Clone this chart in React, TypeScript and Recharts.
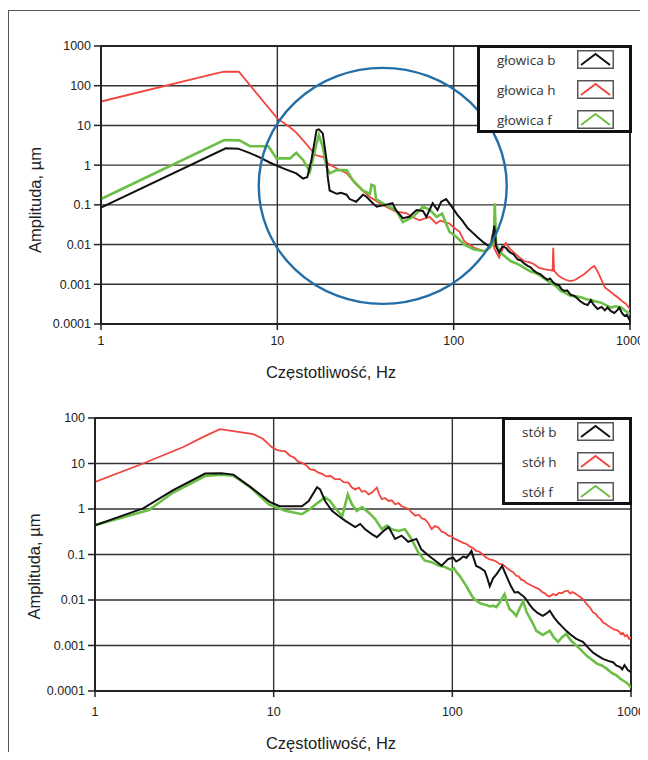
import React from "react";
import {
  CartesianGrid,
  Legend,
  Line,
  LineChart,
  ReferenceArea,
  ReferenceDot,
  XAxis,
  YAxis,
} from "recharts";

// ---- chart 1: głowica (spindle head) ----
const headBFreq = [1, 5.1, 6, 7, 8, 9.1, 10.8, 12.8, 14, 14.8, 15.6, 16.7, 17.2, 18.1, 19, 19.3, 19.8, 21.7, 23, 24.7, 25.7, 28, 30.6, 32, 34.8, 36.6, 41, 45, 47, 51.5, 56, 61.6, 67, 70, 76, 81, 85, 90.6, 96, 105, 112, 120, 128, 137, 149, 159, 165, 170, 174, 181, 189, 198, 205, 211, 218, 225, 231, 240, 252, 263, 272, 285, 299, 310, 325, 341, 352, 368, 380, 395, 410, 424, 440, 460, 483, 500, 520, 550, 575, 600, 620, 655, 690, 720, 746, 780, 814, 845, 870, 900, 930, 960, 1000];
const headBAmp = [0.085, 2.65, 2.6, 2.0, 1.55, 1.15, 0.83, 0.62, 0.46, 0.5, 1.35, 7.7, 8, 6.3, 1.35, 0.51, 0.23, 0.19, 0.2, 0.18, 0.14, 0.12, 0.18, 0.16, 0.11, 0.09, 0.1, 0.11, 0.074, 0.046, 0.05, 0.074, 0.07, 0.05, 0.11, 0.074, 0.12, 0.14, 0.1, 0.056, 0.04, 0.026, 0.02, 0.015, 0.011, 0.009, 0.012, 0.03, 0.009, 0.0062, 0.009, 0.0083, 0.0068, 0.0062, 0.0058, 0.0048, 0.0042, 0.004, 0.0033, 0.0029, 0.0027, 0.0022, 0.0019, 0.0018, 0.0015, 0.0013, 0.0014, 0.0011, 0.001, 0.00095, 0.00075, 0.00068, 0.0007, 0.00055, 0.00051, 0.00045, 0.00038, 0.00032, 0.0003, 0.0004, 0.00031, 0.00024, 0.00027, 0.00022, 0.00026, 0.00021, 0.00019, 0.00022, 0.00026, 0.00019, 0.00016, 0.00017, 0.00012];

const headHFreq = [1, 4.5, 5, 6.05, 10, 11.8, 12.9, 14.5, 16.5, 18.2, 19.4, 22, 24.7, 28.1, 33.3, 39.6, 47.3, 53.8, 58, 64, 73, 79.6, 84, 94.6, 101, 108, 115, 131, 149, 160, 166, 170, 181, 190, 198, 208, 221, 235, 252, 268, 286, 305, 326, 345, 364, 367, 371, 390, 405, 430, 461, 490, 515, 549, 580, 610, 627, 645, 670, 700, 720, 760, 800, 850, 900, 950, 1000];
const headHAmp = [40, 205, 225, 225, 15, 9, 6.4, 3.5, 1.8, 1.6, 1.1, 0.8, 0.63, 0.32, 0.16, 0.1, 0.067, 0.062, 0.05, 0.041, 0.05, 0.034, 0.04, 0.034, 0.026, 0.021, 0.012, 0.0083, 0.0068, 0.008, 0.018, 0.008, 0.0047, 0.008, 0.011, 0.0078, 0.0062, 0.0048, 0.0038, 0.0036, 0.0032, 0.0026, 0.0024, 0.0023, 0.0022, 0.0083, 0.0022, 0.0017, 0.0015, 0.0013, 0.0012, 0.0013, 0.0015, 0.0018, 0.0022, 0.0027, 0.0029, 0.0024, 0.0017, 0.0011, 0.00083, 0.0007, 0.00058, 0.00047, 0.00038, 0.00032, 0.00024];

const headFFreq = [1, 5, 6.1, 7, 8.9, 9.9, 11.8, 12.8, 14, 15.3, 16.7, 17.2, 18.1, 19, 19.8, 21.7, 24.7, 26.8, 30.5, 33.5, 34.2, 35.5, 36.3, 41, 47, 51.5, 59, 67, 73.5, 80, 86, 94.6, 103, 115, 131, 149, 163, 169, 171, 174, 185, 198, 211, 225, 241, 258, 274, 293, 313, 333, 355, 380, 405, 430, 461, 495, 528, 565, 600, 640, 680, 730, 780, 830, 890, 950, 1000];
const headFAmp = [0.14, 4.3, 4.2, 3.0, 3.0, 1.48, 1.48, 2.05, 1.35, 0.68, 3.5, 5.7, 2.9, 0.91, 0.62, 0.75, 0.75, 0.42, 0.23, 0.19, 0.32, 0.3, 0.14, 0.1, 0.074, 0.037, 0.05, 0.09, 0.074, 0.05, 0.06, 0.021, 0.016, 0.01, 0.0075, 0.0068, 0.009, 0.012, 0.11, 0.01, 0.0062, 0.0048, 0.0038, 0.0034, 0.0029, 0.0024, 0.0021, 0.0019, 0.0016, 0.0013, 0.0011, 0.0009, 0.00068, 0.0006, 0.00051, 0.0005, 0.00047, 0.00042, 0.0004, 0.00037, 0.00035, 0.0003, 0.00026, 0.00028, 0.00026, 0.00021, 0.00018];

// ---- chart 2: stół (table) ----
const tableBFreq = [1, 1.86, 2.74, 4.13, 5.1, 5.95, 7.4, 9.5, 10.8, 11.6, 14.4, 15.7, 17.5, 18.2, 19.4, 21.2, 23.1, 25.2, 28.6, 30.5, 32.5, 35.4, 37.8, 41.2, 44, 47.8, 52, 56.6, 63, 67, 73.5, 80, 87, 95, 101, 105, 110, 115, 120, 124, 128, 132, 136, 144, 152, 157, 162, 169, 176, 183, 190, 197, 205, 213, 223, 233, 243, 251, 259, 270, 283, 300, 321, 336, 351, 370, 391, 412, 434, 462, 494, 515, 538, 575, 612, 650, 697, 745, 793, 830, 866, 893, 920, 960, 1000];
const tableBAmp = [0.44, 1.03, 2.6, 6.0, 6.1, 5.7, 3.07, 1.44, 1.15, 1.15, 1.15, 1.5, 3.0, 2.7, 1.5, 0.91, 0.7, 0.55, 0.4, 0.47, 0.36, 0.28, 0.24, 0.33, 0.4, 0.22, 0.26, 0.19, 0.22, 0.13, 0.095, 0.074, 0.057, 0.08, 0.085, 0.07, 0.078, 0.09, 0.085, 0.1, 0.12, 0.08, 0.056, 0.05, 0.043, 0.03, 0.02, 0.03, 0.036, 0.045, 0.056, 0.04, 0.028, 0.02, 0.0146, 0.015, 0.013, 0.012, 0.0104, 0.008, 0.0063, 0.0052, 0.0045, 0.005, 0.0058, 0.0042, 0.0032, 0.0026, 0.0021, 0.0017, 0.0014, 0.0013, 0.0012, 0.0009, 0.0007, 0.0006, 0.00051, 0.00046, 0.00043, 0.00036, 0.00034, 0.0003, 0.00037, 0.00029, 0.00026];

const tableHFreq = [1, 1.86, 3.12, 4.04, 5, 6.2, 7.7, 8.7, 9.75, 10.4, 11, 11.6, 12.3, 13, 13.7, 14.4, 15.2, 16, 16.9, 17.8, 18.7, 19.7, 20.8, 22.1, 23.4, 24.6, 26.2, 27.3, 28.6, 30, 31.2, 32.5, 34, 35.5, 36.6, 37.8, 39, 40.3, 42, 44, 45.8, 47.8, 50, 52, 54.3, 57, 59, 62, 65, 67.5, 70, 73, 76.6, 80, 83.6, 87, 91, 95, 99, 103, 109, 115, 120, 125, 130, 136, 142, 148, 155, 162, 169, 176, 184, 192, 200, 210, 219, 228, 235, 243, 250, 259, 270, 283, 295, 308, 318, 330, 340, 351, 366, 382, 396, 410, 425, 443, 456, 470, 482, 494, 505, 515, 526, 538, 556, 575, 593, 612, 633, 655, 676, 697, 720, 745, 770, 793, 820, 850, 875, 901, 925, 950, 975, 1000];
const tableHAmp = [3.95, 10, 23, 38.5, 57, 50, 44, 35, 23, 20, 19, 18.6, 15, 13.5, 11, 10.3, 9.2, 7.4, 7.2, 6.3, 5.9, 5.2, 5.3, 4.5, 4.6, 3.9, 3.8, 3.0, 2.7, 2.95, 2.4, 2.5, 2.1, 2.3, 2.6, 2.95, 2.1, 1.64, 1.75, 1.5, 1.55, 1.27, 1.35, 1.15, 1.08, 1.0, 0.85, 0.71, 0.75, 0.62, 0.6, 0.5, 0.36, 0.42, 0.39, 0.32, 0.3, 0.26, 0.25, 0.22, 0.2, 0.18, 0.17, 0.15, 0.14, 0.12, 0.115, 0.1, 0.085, 0.078, 0.075, 0.07, 0.062, 0.06, 0.052, 0.045, 0.041, 0.034, 0.033, 0.028, 0.027, 0.024, 0.022, 0.02, 0.0185, 0.017, 0.015, 0.014, 0.0125, 0.012, 0.0135, 0.0127, 0.0145, 0.014, 0.0155, 0.016, 0.0138, 0.015, 0.0142, 0.0134, 0.0125, 0.012, 0.0112, 0.0104, 0.0088, 0.0075, 0.0066, 0.0054, 0.005, 0.0042, 0.0038, 0.0032, 0.003, 0.0027, 0.0025, 0.0023, 0.0022, 0.0021, 0.0018, 0.0019, 0.0016, 0.0017, 0.0014, 0.0015];

const tableFFreq = [1, 2, 2.74, 4.13, 5.1, 5.95, 7.4, 9.4, 11.6, 14.4, 16, 17.8, 19.4, 20.7, 22, 24.2, 26, 27.4, 29.2, 31.2, 34, 37, 40.3, 43, 45.8, 50, 54.3, 59, 64.5, 70, 76.6, 83.6, 91, 99, 102, 106, 110, 115, 120, 125, 131, 137, 143, 149, 155, 162, 169, 176, 184, 190, 196, 202, 209, 218, 228, 238, 249, 260, 271, 283, 295, 308, 321, 335, 351, 370, 391, 410, 434, 460, 494, 525, 563, 600, 644, 690, 731, 780, 830, 865, 901, 950, 1000];
const tableFAmp = [0.44, 0.95, 2.3, 5.3, 5.7, 5.4, 3.0, 1.26, 0.91, 0.77, 1.0, 1.4, 1.8, 1.5, 1.07, 0.7, 2.1, 1.27, 0.91, 1.1, 0.84, 0.6, 0.36, 0.43, 0.36, 0.33, 0.36, 0.22, 0.11, 0.074, 0.068, 0.057, 0.053, 0.045, 0.05, 0.04, 0.034, 0.026, 0.02, 0.015, 0.011, 0.0095, 0.0085, 0.0081, 0.0078, 0.0072, 0.0075, 0.007, 0.0088, 0.011, 0.0134, 0.009, 0.0063, 0.0055, 0.0045, 0.0065, 0.0095, 0.0055, 0.0041, 0.003, 0.0021, 0.0019, 0.0017, 0.0019, 0.0021, 0.0015, 0.0012, 0.0015, 0.0018, 0.0013, 0.001, 0.0008, 0.0006, 0.0005, 0.0004, 0.00036, 0.00031, 0.00025, 0.00022, 0.00019, 0.00017, 0.00015, 0.00012];

const freqTicks = [1, 10, 100, 1000];
const headAmpTicks = [0.0001, 0.001, 0.01, 0.1, 1, 10, 100, 1000];
const tableAmpTicks = [0.0001, 0.001, 0.01, 0.1, 1, 10, 100];
const headCircle = { f: 39.6, a: 0.3 };

const BLACK = "#111111";
const RED = "#f0463e";
const GREEN = "#6cbf45";
const FONT = "'Liberation Sans', Arial, sans-serif";

const toPoints = (freq: number[], amp: number[]) => freq.map((f, i) => ({ f, a: amp[i] }));

interface Series {
  name: string;
  color: string;
  width: number;
  data: { f: number; a: number }[];
}

const headSeries: Series[] = [
  { name: "głowica b", color: BLACK, width: 2, data: toPoints(headBFreq, headBAmp) },
  { name: "głowica h", color: RED, width: 1.8, data: toPoints(headHFreq, headHAmp) },
  { name: "głowica f", color: GREEN, width: 2.6, data: toPoints(headFFreq, headFAmp) },
];
const tableSeries: Series[] = [
  { name: "stół b", color: BLACK, width: 2, data: toPoints(tableBFreq, tableBAmp) },
  { name: "stół h", color: RED, width: 1.8, data: toPoints(tableHFreq, tableHAmp) },
  { name: "stół f", color: GREEN, width: 2.6, data: toPoints(tableFFreq, tableFAmp) },
];
// draw order: red, green, black on top
const drawOrder = [1, 2, 0];

const LegendBox = ({ items, width }: { items: Series[]; width: number }) => (
  <div
    style={{
      width,
      height: 88,
      boxSizing: "border-box",
      border: "3px solid #111",
      background: "#fff",
      fontFamily: "'Open Sans', sans-serif",
      fontSize: 13.5,
      color: "#333",
    }}
  >
    <div style={{ marginTop: -3.5 }}>
      {items.map((s) => (
        <div
          key={s.name}
          style={{
            height: 30,
            display: "flex",
            alignItems: "center",
            justifyContent: "space-between",
            paddingLeft: 17,
            paddingRight: 15,
          }}
        >
          <span>{s.name}</span>
          <svg width={37} height={19}>
            <rect x={0.75} y={0.75} width={35.5} height={17.5} fill="#fff" stroke="#555" strokeWidth={1.5} />
            <polyline points="4,15 18.5,4 33,15" fill="none" stroke={s.color} strokeWidth={2} />
          </svg>
        </div>
      ))}
    </div>
  </div>
);

interface ChartProps {
  series: Series[];
  yTicks: number[];
  height: number;
  margin: { top: number; right: number; left: number; bottom: number };
  yAxisWidth: number;
  xAxisHeight: number;
  xTickMargin: number;
  legendLeft: number;
  legendWidth: number;
  yTitleShift: number;
  xTitleDrop: number;
  circle?: { f: number; a: number };
}

const SpectrumChart = (p: ChartProps) => {
  const yDomain = [p.yTicks[0], p.yTicks[p.yTicks.length - 1]];
  const yTitle = (props: any) => {
    const vb = props.viewBox;
    const cx = vb.x + 8;
    const cy = vb.y + vb.height / 2 + p.yTitleShift;
    return (
      <text x={cx} y={cy} transform={`rotate(-90, ${cx}, ${cy})`} textAnchor="middle" dominantBaseline="central"
            fontFamily={FONT} fontSize={16.5} fill="#222">
        Amplituda, µm
      </text>
    );
  };
  const xTitle = (props: any) => {
    const vb = props.viewBox;
    const cx = 323;
    const cy = vb.y + p.xTitleDrop;
    return (
      <text x={cx} y={cy} textAnchor="middle" dominantBaseline="central" fontFamily={FONT} fontSize={16.5} fill="#222">
        Częstotliwość, Hz
      </text>
    );
  };
  return (
    <LineChart width={640} height={p.height} margin={p.margin} style={{ overflow: "visible" }}>
      <CartesianGrid stroke="#333" strokeWidth={1.4} />
      <XAxis dataKey="f" type="number" scale="log" domain={[1, 1000]} ticks={freqTicks} allowDataOverflow
             height={p.xAxisHeight} tickSize={6} tickMargin={p.xTickMargin} stroke="#222" strokeWidth={1.5}
             tick={{ fontFamily: FONT, fontSize: 12.5, fill: "#222" }} label={{ content: xTitle }} />
      <YAxis dataKey="a" type="number" scale="log" domain={yDomain} ticks={p.yTicks} allowDataOverflow
             width={p.yAxisWidth} tickSize={7} tickMargin={3} stroke="#222" strokeWidth={1.5}
             tickFormatter={(v: number) => String(v)}
             tick={{ fontFamily: FONT, fontSize: 12.5, fill: "#222" }} label={{ content: yTitle }} />
      <ReferenceArea x1={1} x2={1000} y1={yDomain[0]} y2={yDomain[1]} fill="none" stroke="#111" strokeWidth={1.5} />
      {drawOrder.map((i) => {
        const s = p.series[i];
        return (
          <Line key={s.name} name={s.name} data={s.data} dataKey="a" type="linear" stroke={s.color}
                strokeWidth={s.width} dot={false} isAnimationActive={false} />
        );
      })}
      {p.circle && (
        <ReferenceDot x={p.circle.f} y={p.circle.a}
                      shape={(sp: any) => (
                        <ellipse cx={sp.cx} cy={sp.cy} rx={124} ry={118} fill="none" stroke="#246ea8" strokeWidth={2.4} />
                      )} />
      )}
      <Legend layout="vertical" align="center" verticalAlign="middle"
              wrapperStyle={{ left: p.legendLeft, top: p.margin.top - 1, width: p.legendWidth, height: 88 }}
              content={() => <LegendBox items={p.series} width={p.legendWidth} />} />
    </LineChart>
  );
};

export default function App() {
  return (
    <div style={{ position: "relative", width: 640, height: 744, background: "#fff", fontFamily: FONT }}>
      <style>{"html, body { overflow: hidden; }"}</style>
      <div style={{ position: "absolute", left: 0, top: 2, width: 640, height: 742, boxSizing: "border-box",
                    borderTop: "1.5px solid #555", borderLeft: "1.5px solid #555" }} />
      <div style={{ position: "absolute", left: 0, top: 0 }}>
        <SpectrumChart series={headSeries} yTicks={headAmpTicks} height={372}
                       margin={{ top: 38, right: 18, left: 19, bottom: 0 }} yAxisWidth={74} xAxisHeight={56}
                       xTickMargin={6} legendLeft={469} legendWidth={155} yTitleShift={15} xTitleDrop={48}
                       circle={headCircle} />
      </div>
      <div style={{ position: "absolute", left: 0, top: 372 }}>
        <SpectrumChart series={tableSeries} yTicks={tableAmpTicks} height={372}
                       margin={{ top: 38, right: 17, left: 18, bottom: 0 }} yAxisWidth={69} xAxisHeight={61}
                       xTickMargin={10} legendLeft={494} legendWidth={130} yTitleShift={12} xTitleDrop={52} />
      </div>
    </div>
  );
}
